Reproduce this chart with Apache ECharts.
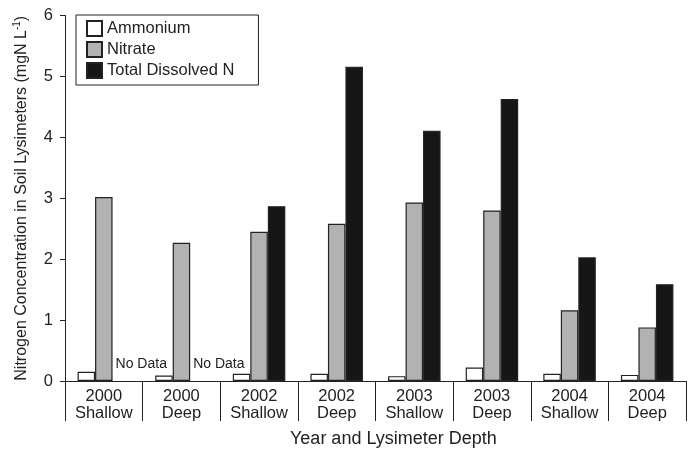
<!DOCTYPE html>
<html>
<head>
<meta charset="utf-8">
<script src="https://cdn.jsdelivr.net/npm/echarts@6/dist/echarts.min.js"></script>
<style>html,body{margin:0;padding:0;background:#fff;}#c{width:688px;height:453px;}</style>
</head>
<body>
<div id="c"></div>
<script>
const categories = ['2000\nShallow','2000\nDeep','2002\nShallow','2002\nDeep','2003\nShallow','2003\nDeep','2004\nShallow','2004\nDeep'];
const ammonium = [0.15, 0.09, 0.12, 0.12, 0.08, 0.22, 0.12, 0.10];
const nitrate = [3.02, 2.27, 2.45, 2.58, 2.93, 2.80, 1.16, 0.88];
const totalDissolvedN = [null, null, 2.87, 5.16, 4.11, 4.63, 2.03, 1.59];
const yTicks = [0, 1, 2, 3, 4, 5, 6];

const FONT = 'Liberation Sans, Arial, Helvetica, sans-serif';
const chart = echarts.init(document.getElementById('c'));

const tdnData = totalDissolvedN.map(v => v === null ? {
  value: 0,
  itemStyle: {borderWidth: 0, color: 'rgba(0,0,0,0)'},
  label: {show: true, formatter: 'No Data', position: [3, -17], align: 'left', verticalAlign: 'middle',
          fontSize: 14, color: '#222', fontFamily: FONT}
} : v);

chart.setOption({
  animation: false,
  backgroundColor: '#fff',
  textStyle: {fontFamily: FONT},
  grid: {left: 65, right: 2, top: 15.5, bottom: 72, containLabel: false},
  legend: {
    orient: 'vertical', left: 76, top: 15,
    itemWidth: 15, itemHeight: 15, itemGap: 4,
    padding: [5, 24, 6, 10],
    borderColor: '#222', borderWidth: 1,
    icon: 'rect',
    textStyle: {fontSize: 16.5, color: '#222', fontFamily: FONT},
    data: ['Ammonium', 'Nitrate', 'Total Dissolved N']
  },
  xAxis: {
    type: 'category', data: categories,
    axisLine: {lineStyle: {color: '#222', width: 1}},
    axisTick: {show: true, length: 40, lineStyle: {color: '#222', width: 1}},
    axisLabel: {fontSize: 16.5, lineHeight: 17, color: '#222', margin: 7, fontFamily: FONT, interval: 0}
  },
  yAxis: {
    type: 'value', min: yTicks[0], max: yTicks[yTicks.length - 1], interval: 1,
    splitLine: {show: false},
    axisLine: {show: true, lineStyle: {color: '#222', width: 1}},
    axisTick: {show: true, length: 5, lineStyle: {color: '#222'}},
    axisLabel: {fontSize: 16.5, color: '#222', margin: 12, fontFamily: FONT},
    name: '{a|Nitrogen Concentration in Soil Lysimeters (mgN L}{s|-1}{a|)}',
    nameLocation: 'middle', nameRotate: 90, nameGap: 33,
    nameTextStyle: {
      rich: {
        a: {fontSize: 16, color: '#222', fontFamily: FONT, lineHeight: 20},
        s: {fontSize: 10, color: '#222', fontFamily: FONT, verticalAlign: 'top', lineHeight: 20, padding: [0, 0, 8, 0]}
      }
    }
  },
  graphic: [{
    type: 'text', left: 290, top: 430,
    style: {text: 'Year and Lysimeter Depth', fontSize: 18, fill: '#222', fontFamily: FONT}
  }],
  series: [
    {name: 'Ammonium', type: 'bar', data: ammonium, barWidth: 17.5, barGap: '0%',
     itemStyle: {color: '#ffffff', borderColor: '#222', borderWidth: 1.2}},
    {name: 'Nitrate', type: 'bar', data: nitrate, barWidth: 17.5, barGap: '0%',
     itemStyle: {color: '#b2b2b2', borderColor: '#222', borderWidth: 1.2}},
    {name: 'Total Dissolved N', type: 'bar', data: tdnData, barWidth: 17.5, barGap: '0%',
     itemStyle: {color: '#161616', borderColor: '#222', borderWidth: 1.2}}
  ]
});
</script>
</body>
</html>
